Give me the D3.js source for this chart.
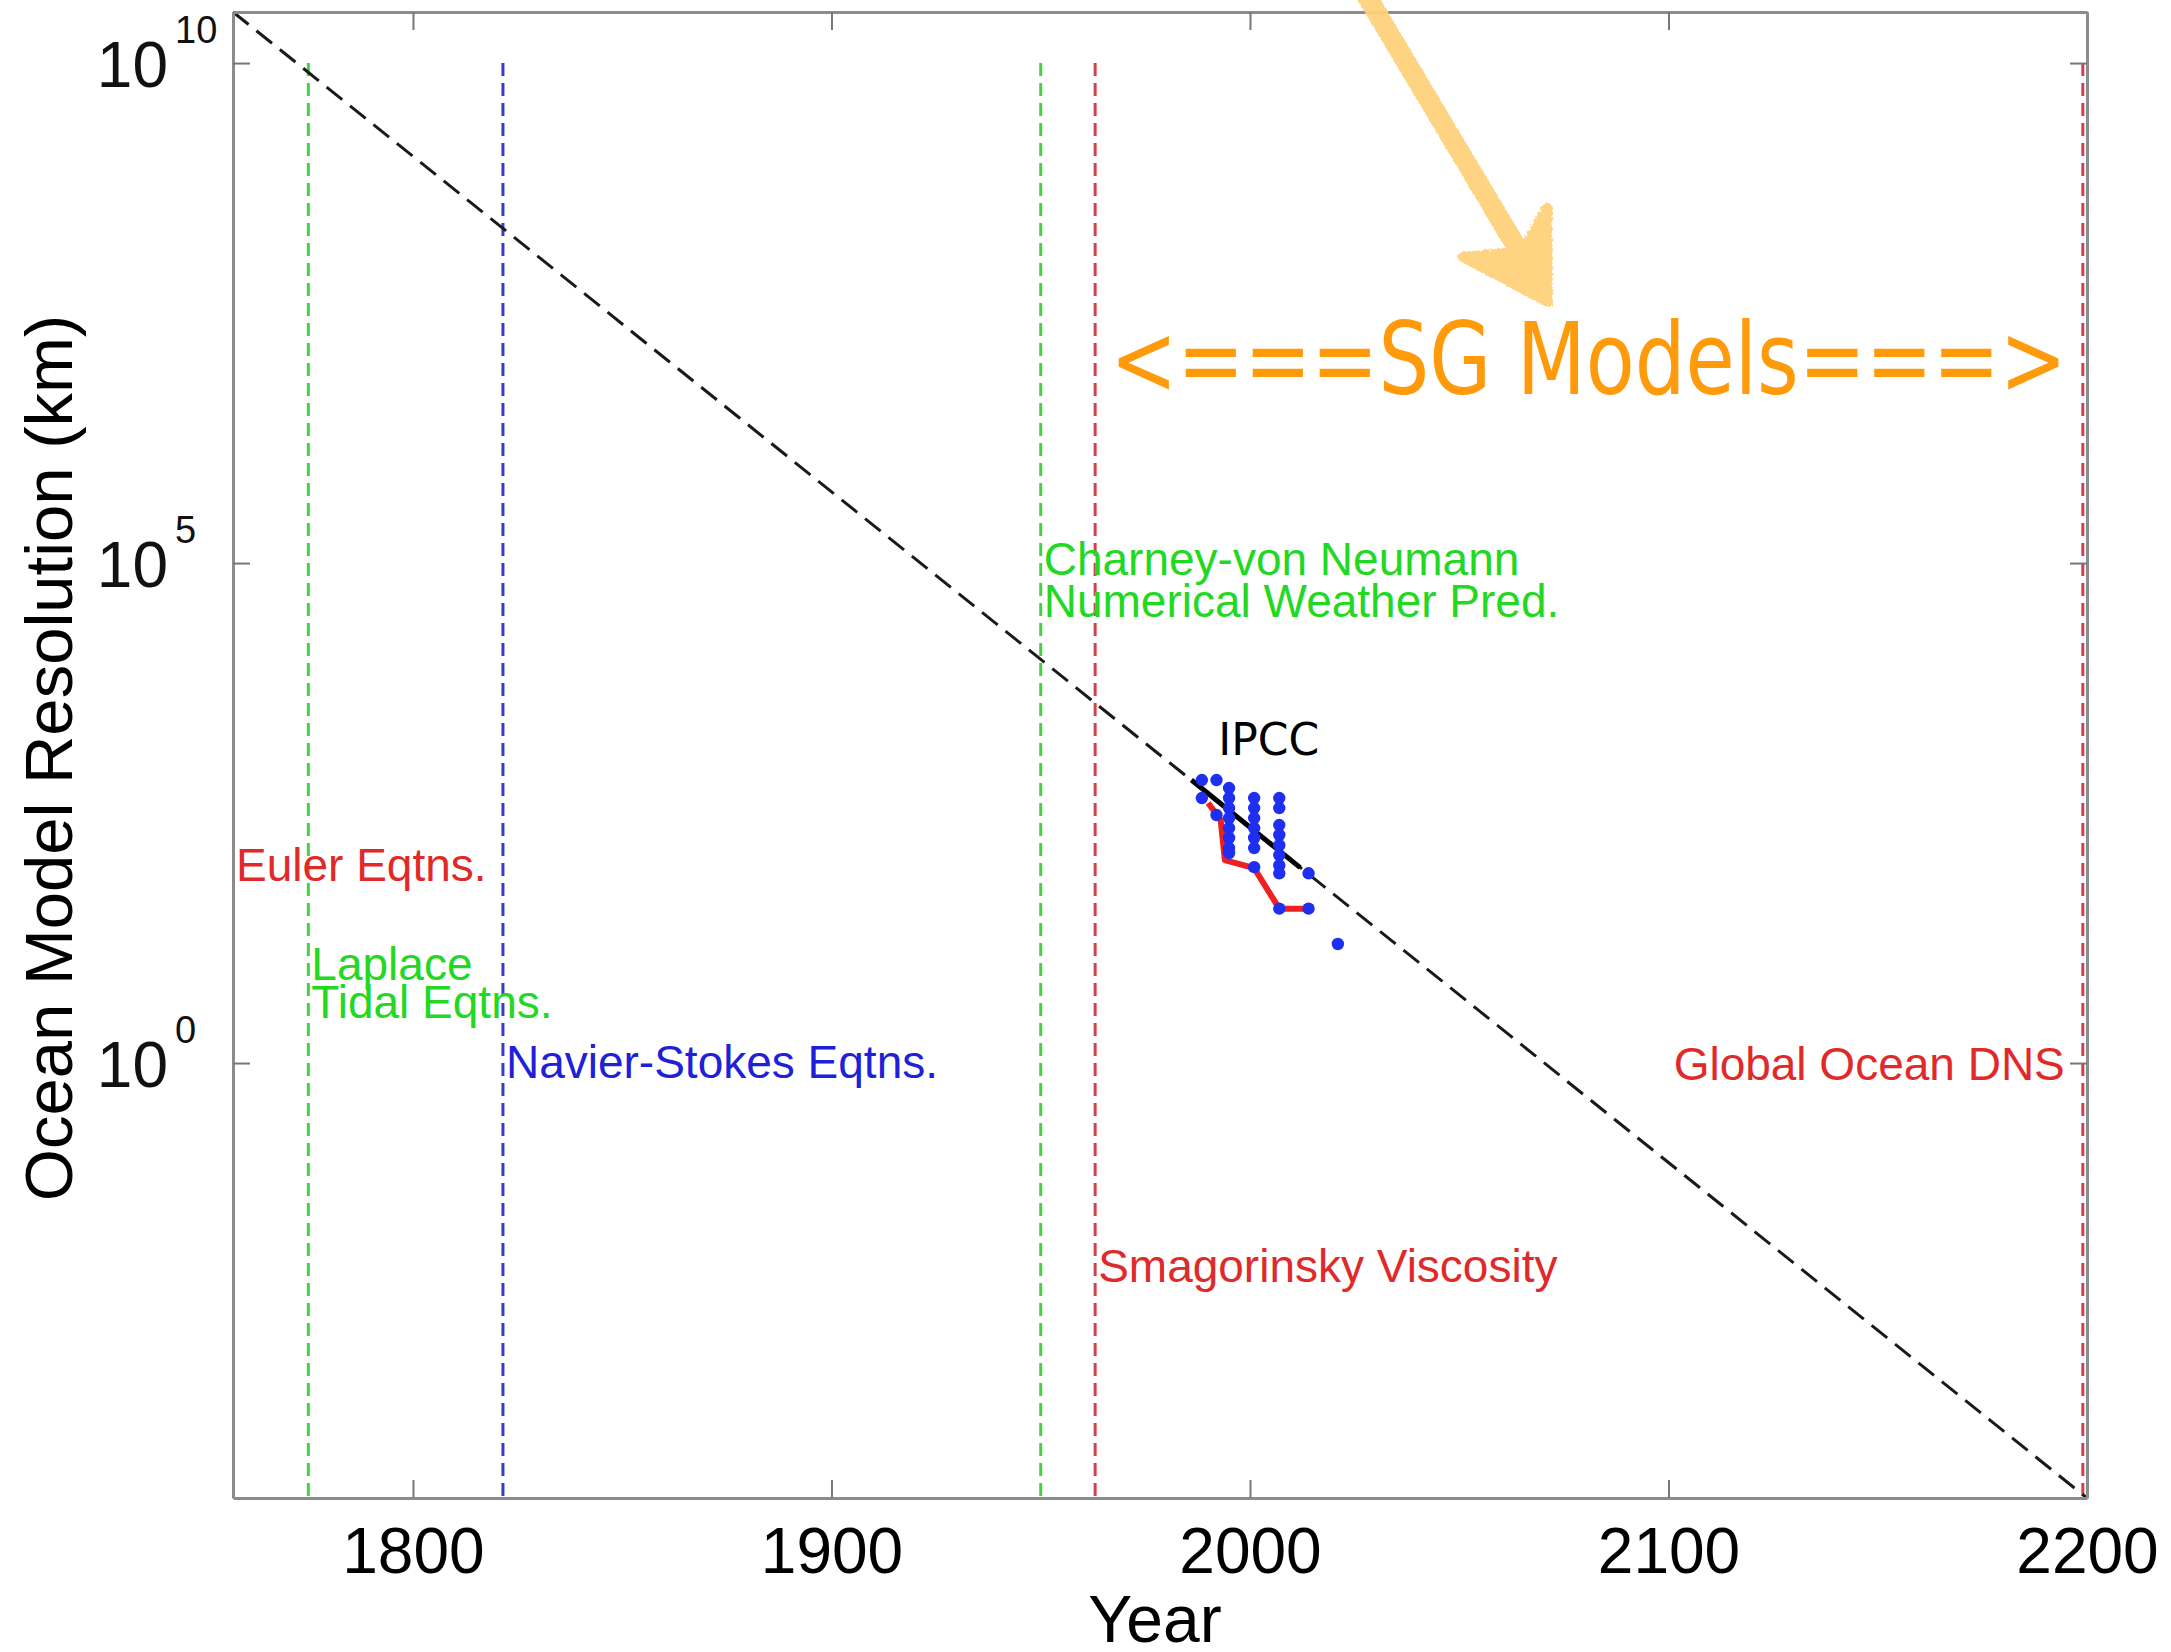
<!DOCTYPE html>
<html><head><meta charset="utf-8">
<script src="https://cdn.jsdelivr.net/npm/d3@7"></script>
<style>html,body{margin:0;padding:0;background:#fff;} svg{display:block}</style>
</head><body><svg id="c" width="2171" height="1652"></svg>
<script>
// ---------------- data ----------------
const xTicks = [1800, 1900, 2000, 2100, 2200];
const yTicks = [1, 1e5, 1e10];
const yTickExponents = ["0", "5", "10"];
const xDomain = [1757, 2200];
const yDomain = [4.47e-5, 3.24e10];

// dashed trend line across the whole chart
const diagonalYears = [1757, 2200];
const diagonalRes = [3.24e10, 4.47e-5];

// vertical dashed event lines
const eventYears = [1775, 1821.5, 1950, 1963, 2199];
const eventKinds = ["green", "blue", "green", "red", "red"];
const eventTopRes = 1e10;

// event labels (anchored at year, baseline at resolution value)
const labelTexts = ["Euler Eqtns.", "Laplace", "Tidal Eqtns.", "Navier-Stokes Eqtns.",
  "Charney-von Neumann", "Numerical Weather Pred.", "Smagorinsky Viscosity", "Global Ocean DNS"];
const labelYears = [1757, 1775, 1775, 1821.5, 1950, 1950, 1963, 2199];
const labelRes = [66, 6.8, 2.8, 0.71, 75900, 28800, 0.00646, 0.676];
const labelKinds = ["red", "green", "green", "blue", "green", "green", "red", "red"];
const labelAlign = ["start", "start", "start", "start", "start", "start", "start", "end"];

// IPCC model resolutions (blue dots)
const ipccYears = [1988.5, 1988.5, 1992, 1992,
  1995, 1995, 1995, 1995, 1995, 1995, 1995, 1995,
  2001, 2001, 2001, 2001, 2001, 2001, 2001,
  2007, 2007, 2007, 2007, 2007, 2007, 2007, 2007, 2007,
  2014, 2014, 2021];
const ipccRes = [676, 447, 676, 302,
  562, 447, 355, 282, 224, 178, 141, 126,
  447, 355, 282, 224, 178, 141, 91,
  447, 355, 240, 191, 151, 120, 95, 79, 35,
  79, 35, 15.5];

// finest IPCC resolution (red line)
const finestYears = [1990, 1993, 1994, 2001, 2007, 2014];
const finestRes = [398, 269, 107, 89, 35, 35];

// IPCC trend (solid black)
const trendYears = [1986, 2012];
const trendRes = [676, 90];

// annotation: hand-drawn arrow and SG models text
const arrowShaftYears = [2028, 2066];
const arrowShaftRes = [4.6e10, 1.0e8];
const arrowHeadYears = [2050.9, 2071.2, 2071.0, 2065.0];
const arrowHeadRes = [1.15e8, 4.07e7, 3.55e8, 1.3e8];
const sgText = "<===SG Models===>";
const sgYears = [1966.6, 2195.2];
const sgRes = 4.9e6;
const ipccLabelYear = 2004.5;
const ipccLabelRes = 1200;

// ---------------- drawing ----------------
const colors = {green: "#22d822", blue: "#2020d8", red: "#e02a2a"};
const lineColors = {green: "#45d045", blue: "#3a3ad0", red: "#d2404c"};

const svg = d3.select("#c");
const L = 233, R = 2087, T = 12, B = 1498;
const x = d3.scaleLinear().domain(xDomain).range([L, R]);
const y = d3.scaleLog().domain(yDomain).range([B, T]);

const defs = svg.append("defs");
const f = defs.append("filter").attr("id", "rough").attr("x", "-20%").attr("y", "-20%").attr("width", "140%").attr("height", "140%");
f.append("feTurbulence").attr("type", "fractalNoise").attr("baseFrequency", 0.35).attr("numOctaves", 2).attr("result", "n");
f.append("feDisplacementMap").attr("in", "SourceGraphic").attr("in2", "n").attr("scale", 6);

// vertical event lines
svg.append("g").selectAll("line").data(eventYears).join("line")
  .attr("x1", d => x(d)).attr("x2", d => x(d))
  .attr("y1", y(eventTopRes)).attr("y2", y(yDomain[0]))
  .attr("stroke", (d, i) => lineColors[eventKinds[i]])
  .attr("stroke-width", 3).attr("stroke-dasharray", "13,7");

// diagonal dashed line
const line = d3.line().x(d => x(d[0])).y(d => y(d[1]));
svg.append("path").datum(diagonalYears.map((d, i) => [d, diagonalRes[i]]))
  .attr("d", line).attr("fill", "none").attr("stroke", "#1a1a1a")
  .attr("stroke-width", 3).attr("stroke-dasharray", "20,10");

// labels
svg.append("g").selectAll("text").data(labelTexts).join("text")
  .attr("x", (d, i) => x(labelYears[i]) + (labelAlign[i] === "end" ? -18 : 3))
  .attr("y", (d, i) => y(labelRes[i]))
  .attr("text-anchor", (d, i) => labelAlign[i])
  .attr("fill", (d, i) => colors[labelKinds[i]])
  .style("font-family", "'Liberation Sans', Arial, sans-serif")
  .style("font-size", "46px")
  .text(d => d);

// IPCC finest (red)
svg.append("path").datum(finestYears.map((d, i) => [d, finestRes[i]]))
  .attr("d", line).attr("fill", "none").attr("stroke", "#ee2020")
  .attr("stroke-width", 6).attr("stroke-linejoin", "round");

// IPCC trend (black)
svg.append("path").datum(trendYears.map((d, i) => [d, trendRes[i]]))
  .attr("d", line).attr("fill", "none").attr("stroke", "#000")
  .attr("stroke-width", 5);

// blue dots
svg.append("g").selectAll("circle").data(ipccYears).join("circle")
  .attr("cx", d => x(d)).attr("cy", (d, i) => y(ipccRes[i]))
  .attr("r", 6.2).attr("fill", "#1f2ff0");

// IPCC label
svg.append("text").attr("x", x(ipccLabelYear)).attr("y", y(ipccLabelRes))
  .attr("text-anchor", "middle").attr("fill", "#000")
  .attr("textLength", 101).attr("lengthAdjust", "spacingAndGlyphs")
  .style("font-family", "'DejaVu Sans', sans-serif").style("font-size", "44px")
  .text("IPCC");

// axes
const axisColor = "#8c8c8c";
function styleAxis(g) {
  g.select(".domain").attr("stroke", axisColor).attr("stroke-width", 3);
  g.selectAll(".tick line").attr("stroke", "#777").attr("stroke-width", 2);
}
const gx = svg.append("g").attr("transform", `translate(0,${B})`)
  .call(d3.axisBottom(x).tickValues(xTicks).tickSizeInner(-18).tickSizeOuter(0).tickPadding(30).tickFormat(d3.format("d")));
styleAxis(gx);
gx.selectAll(".tick text").attr("fill", "#000")
  .style("font-family", "'Liberation Sans', Arial, sans-serif").style("font-size", "64px");

const gt = svg.append("g").attr("transform", `translate(0,${T})`)
  .call(d3.axisTop(x).tickValues(xTicks).tickSizeInner(-18).tickSizeOuter(0).tickFormat(""));
styleAxis(gt);

const gl = svg.append("g").attr("transform", `translate(${L},0)`)
  .call(d3.axisLeft(y).tickValues(yTicks).tickSizeInner(-17).tickSizeOuter(0).tickFormat(""));
styleAxis(gl);
const gr = svg.append("g").attr("transform", `translate(${R},0)`)
  .call(d3.axisRight(y).tickValues(yTicks).tickSizeInner(-17).tickSizeOuter(0).tickFormat(""));
styleAxis(gr);

// y tick labels: 10 with superscript exponent
const yl = svg.append("g").style("font-family", "'Liberation Sans', Arial, sans-serif").attr("fill", "#111");
yl.selectAll("text.base").data(yTicks).join("text").attr("class", "base")
  .attr("x", 168).attr("y", d => y(d) + 24).attr("text-anchor", "end")
  .style("font-size", "64px").text("10");
yl.selectAll("text.exp").data(yTicks).join("text").attr("class", "exp")
  .attr("x", 175).attr("y", d => y(d) - 20)
  .style("font-size", "38px").text((d, i) => yTickExponents[i]);

// axis titles
svg.append("text").attr("x", 1155).attr("y", 1642).attr("text-anchor", "middle")
  .style("font-family", "'Liberation Sans', Arial, sans-serif").style("font-size", "66px")
  .attr("fill", "#000").text("Year");
svg.append("text").attr("transform", "translate(72,758) rotate(-90)").attr("text-anchor", "middle")
  .style("font-family", "'Liberation Sans', Arial, sans-serif").style("font-size", "67px")
  .attr("fill", "#000").text("Ocean Model Resolution (km)");

// hand-drawn arrow
const arrow = svg.append("g").attr("filter", "url(#rough)").attr("opacity", 0.95);
arrow.append("path").datum(arrowShaftYears.map((d, i) => [d, arrowShaftRes[i]]))
  .attr("d", line).attr("fill", "none").attr("stroke", "#fed27c")
  .attr("stroke-width", 20).attr("stroke-linecap", "round");
arrow.append("path").datum(arrowHeadYears.map((d, i) => [d, arrowHeadRes[i]]))
  .attr("d", d => line(d) + "Z").attr("fill", "#fed27c").attr("stroke", "#fed27c")
  .attr("stroke-width", 10).attr("stroke-linejoin", "round");

// SG models text
svg.append("text").attr("x", x(sgYears[0])).attr("y", y(sgRes))
  .attr("textLength", x(sgYears[1]) - x(sgYears[0])).attr("lengthAdjust", "spacingAndGlyphs")
  .attr("fill", "#ff9a0a")
  .style("font-family", "'DejaVu Sans', sans-serif").style("font-size", "100px")
  .text(sgText);
</script></body></html>
